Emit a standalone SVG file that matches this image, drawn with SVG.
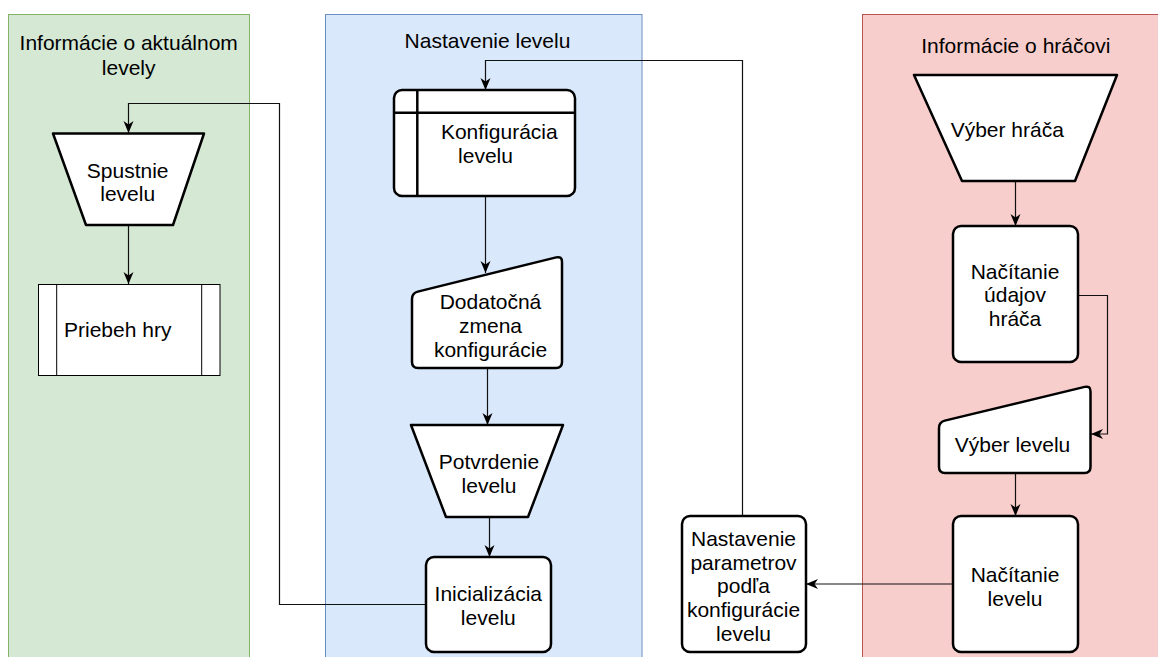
<svg xmlns="http://www.w3.org/2000/svg" width="1158" height="657" viewBox="0 0 1158 657">
  <style>
    text { font-family: "Liberation Sans", Arial, Helvetica, sans-serif; font-size: 21px; fill: #000; text-anchor: middle; }
    .lane-green { fill: #d5e8d4; stroke: #82b366; stroke-width: 1; }
    .lane-blue { fill: #dae8fc; stroke: #6c8ebf; stroke-width: 1; }
    .lane-red { fill: #f8cecc; stroke: #b85450; stroke-width: 1; }
    .node { fill: #fff; stroke: #000; stroke-width: 2.5; stroke-linejoin: round; }
    .thin { fill: #fff; stroke: #000; stroke-width: 1; }
    .inner { fill: none; stroke: #000; stroke-width: 2.5; }
    .inner-thin { fill: none; stroke: #000; stroke-width: 1; }
    .edge { fill: none; stroke: #111; stroke-width: 1.2; marker-end: url(#arrow); }
  </style>
  <defs>
    <marker id="arrow" markerUnits="userSpaceOnUse" markerWidth="14" markerHeight="12" refX="12" refY="5" orient="auto">
      <path d="M0,0 L12,5 L0,10 L3.5,5 Z" fill="#000"/>
    </marker>
  </defs>

  <rect fill="#fff" x="0" y="0" width="1158" height="657"/>

  <!-- swimlanes -->
  <g id="lane-level-info">
    <rect class="lane-green" x="8.5" y="14.5" width="241" height="660"/>
    <text x="128.7" y="50">Informácie o aktuálnom</text>
    <text x="128.7" y="74.5">levely</text>
  </g>
  <g id="lane-level-setup">
    <rect class="lane-blue" x="325.5" y="14.5" width="316.5" height="660"/>
    <text x="487.5" y="48.3">Nastavenie levelu</text>
  </g>
  <g id="lane-player-info">
    <rect class="lane-red" x="862.5" y="14.5" width="320" height="660"/>
    <text x="1015.8" y="53">Informácie o hráčovi</text>
  </g>

  <!-- connectors -->
  <g id="connectors">
    <path class="edge" d="M426 604.5 L279.5 604.5 L279.5 103.5 L128.5 103.5 L128.5 133"/>
    <path class="edge" d="M128.5 225 L128.5 284"/>
    <path class="edge" d="M742.5 516 L742.5 60.5 L485.5 60.5 L485.5 90"/>
    <path class="edge" d="M485.5 196 L485.5 273"/>
    <path class="edge" d="M487.5 368 L487.5 425"/>
    <path class="edge" d="M489.5 517 L489.5 557"/>
    <path class="edge" d="M1015.5 181 L1015.5 226"/>
    <path class="edge" d="M1078 295.5 L1107.5 295.5 L1107.5 434 L1091 434"/>
    <path class="edge" d="M1015.5 473 L1015.5 516"/>
    <path class="edge" d="M953 584 L806 584"/>
  </g>

  <!-- nodes -->
  <g id="spustenie-levelu">
    <polygon class="node" points="53,133.5 204,133.5 173,225 86,225"/>
    <text x="127.7" y="177.5">Spustnie</text>
    <text x="127.7" y="200.5">levelu</text>
  </g>

  <g id="priebeh-hry">
    <rect class="thin" x="38.5" y="284.5" width="181.5" height="91"/>
    <line class="inner-thin" x1="56.7" y1="284.5" x2="56.7" y2="375.5"/>
    <line class="inner-thin" x1="201.7" y1="284.5" x2="201.7" y2="375.5"/>
    <text x="64" y="336.7" style="text-anchor:start">Priebeh hry</text>
  </g>

  <g id="konfiguracia-levelu">
    <rect class="node" x="394" y="90" width="181" height="106" rx="8"/>
    <line class="inner" x1="417.3" y1="90" x2="417.3" y2="196"/>
    <line class="inner" x1="394" y1="112.7" x2="575" y2="112.7"/>
    <text x="499.3" y="139.3">Konfigurácia</text>
    <text x="485.5" y="163.3">levelu</text>
  </g>

  <g id="dodatocna-zmena">
    <path class="node" d="M412 299 L412 362 Q412 368 418 368 L556 368 Q562 368 562 362 L562 262 Q562 256 556.2 257.4 L417.8 291.6 Q412 293 412 299 Z"/>
    <text x="490.5" y="309.3">Dodatočná</text>
    <text x="490.5" y="333.3">zmena</text>
    <text x="490.5" y="357.3">konfigurácie</text>
  </g>

  <g id="potvrdenie-levelu">
    <polygon class="node" points="411,425 563,425 528,517 446,517"/>
    <text x="489" y="469.3">Potvrdenie</text>
    <text x="489" y="493.3">levelu</text>
  </g>

  <g id="inicializacia-levelu">
    <rect class="node" x="426" y="557" width="125" height="95" rx="8"/>
    <text x="488.3" y="600.7">Inicializácia</text>
    <text x="488.3" y="625">levelu</text>
  </g>

  <g id="vyber-hraca">
    <polygon class="node" points="914,75 1117,75 1075,181 962,181"/>
    <text x="1007.3" y="137.3">Výber hráča</text>
  </g>

  <g id="nacitanie-udajov-hraca">
    <rect class="node" x="953" y="226" width="125" height="136" rx="8"/>
    <text x="1015" y="279">Načítanie</text>
    <text x="1015" y="302.3">údajov</text>
    <text x="1015" y="326">hráča</text>
  </g>

  <g id="vyber-levelu">
    <path class="node" d="M939 428 L939 467 Q939 473 945 473 L1084.5 473 Q1090.5 473 1090.5 467 L1090.5 391.5 Q1090.5 385.5 1084.7 386.9 L944.8 420.6 Q939 422 939 428 Z"/>
    <text x="1012.5" y="451.7">Výber levelu</text>
  </g>

  <g id="nacitanie-levelu">
    <rect class="node" x="953" y="516" width="125" height="136" rx="8"/>
    <text x="1015" y="582.3">Načítanie</text>
    <text x="1015" y="605.7">levelu</text>
  </g>

  <g id="nastavenie-parametrov">
    <rect class="node" x="682" y="516" width="124" height="136" rx="8"/>
    <text x="743.5" y="546">Nastavenie</text>
    <text x="743.5" y="570">parametrov</text>
    <text x="743.5" y="593.3">podľa</text>
    <text x="743.5" y="616.7">konfigurácie</text>
    <text x="743.5" y="641">levelu</text>
  </g>
</svg>
